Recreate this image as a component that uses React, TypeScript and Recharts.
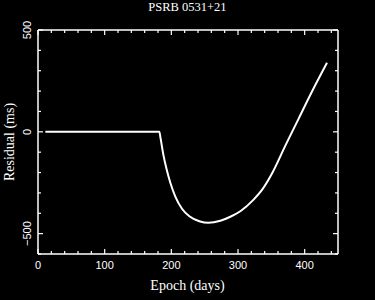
import React from 'react';
import { LineChart, Line, XAxis, YAxis } from 'recharts';

const epochs = [11, 60, 110, 160, 182, 184, 188, 193, 198.5, 206, 216, 227, 242, 255.5, 273.5, 288.5, 303.5, 323.4, 336.5, 351, 371, 391, 411, 433.5];
const residuals = [0, 0, 0, 0, 0, -35, -112, -185, -250, -318, -378, -415, -439, -447, -437, -417, -390, -333, -283, -205, -68, 65, 198, 339];
const xTicks = [0, 20, 40, 60, 80, 100, 120, 140, 160, 180, 200, 220, 240, 260, 280, 300, 320, 340, 360, 380, 400, 420, 440];
const xLabelTicks = [0, 100, 200, 300, 400];
const yTicks = [-600, -500, -400, -300, -200, -100, 0, 100, 200, 300, 400, 500];
const yLabelTicks = [-500, 0, 500];
const title = 'PSRB 0531+21';
const xTitle = 'Epoch (days)';
const yTitle = 'Residual (ms)';

const data = epochs.map((e, i) => ({ e, r: residuals[i] }));

const FG = '#ffffff';
const NUM_FONT = 'Liberation Sans, Arial, sans-serif';
const TXT_FONT = 'Liberation Serif, Times New Roman, serif';

const fmt = (v: number) => (v < 0 ? '\u2212' + Math.abs(v) : String(v));

const BottomTick = (props: any) => {
  const { x, y, payload } = props;
  const major = xLabelTicks.includes(payload.value);
  return (
    <g>
      <line x1={x} x2={x} y1={y} y2={y - (major ? 5 : 3)} stroke={FG} strokeWidth={1.2} />
      {major && (
        <text x={x} y={y + 15} textAnchor="middle" fill={FG} fontSize={11} fontFamily={NUM_FONT}>
          {fmt(payload.value)}
        </text>
      )}
    </g>
  );
};

const TopTick = (props: any) => {
  const { x, y, payload } = props;
  const major = xLabelTicks.includes(payload.value);
  return <line x1={x} x2={x} y1={y} y2={y + (major ? 5 : 3)} stroke={FG} strokeWidth={1.2} />;
};

const LeftTick = (props: any) => {
  const { x, y, payload } = props;
  const major = yLabelTicks.includes(payload.value);
  const tx = x - 7;
  return (
    <g>
      <line x1={x} x2={x + (major ? 5 : 3)} y1={y} y2={y} stroke={FG} strokeWidth={1.2} />
      {major && (
        <text x={tx} y={y} transform={`rotate(-90 ${tx} ${y})`} textAnchor="middle" fill={FG} fontSize={11} fontFamily={NUM_FONT}>
          {fmt(payload.value)}
        </text>
      )}
    </g>
  );
};

const RightTick = (props: any) => {
  const { x, y, payload } = props;
  const major = yLabelTicks.includes(payload.value);
  return <line x1={x} x2={x - (major ? 5 : 3)} y1={y} y2={y} stroke={FG} strokeWidth={1.2} />;
};

export default function App() {
  return (
    <div style={{ position: 'absolute', left: 0, top: 0, width: 375, height: 300, background: '#000' }}>
      <LineChart width={375} height={300} data={data} margin={{ top: 29, right: 36, bottom: 16, left: 0 }}>
        <XAxis
          xAxisId="b"
          dataKey="e"
          type="number"
          domain={[0, 450]}
          ticks={xTicks}
          interval={0}
          height={30}
          tickSize={0}
          tickMargin={0}
          tickLine={false}
          axisLine={{ stroke: FG, strokeWidth: 1.5 }}
          tick={<BottomTick />}
          label={{
            content: () => (
              <text x={187.5} y={290} textAnchor="middle" fill={FG} fontSize={14} fontFamily={TXT_FONT}>
                {xTitle}
              </text>
            ),
          }}
        />
        <XAxis
          xAxisId="t"
          orientation="top"
          dataKey="e"
          type="number"
          domain={[0, 450]}
          ticks={xTicks}
          interval={0}
          height={1}
          tickSize={0}
          tickMargin={0}
          tickLine={false}
          axisLine={{ stroke: FG, strokeWidth: 1.5 }}
          tick={<TopTick />}
          label={{
            content: () => (
              <text x={187.5} y={11} textAnchor="middle" fill={FG} fontSize={12.5} fontFamily={TXT_FONT}>
                {title}
              </text>
            ),
          }}
        />
        <YAxis
          yAxisId="l"
          type="number"
          domain={[-600, 500]}
          ticks={yTicks}
          interval={0}
          width={38}
          tickSize={0}
          tickMargin={0}
          tickLine={false}
          axisLine={{ stroke: FG, strokeWidth: 1.5 }}
          tick={<LeftTick />}
          label={{
            content: () => (
              <text x={14} y={142} transform="rotate(-90 14 142)" textAnchor="middle" fill={FG} fontSize={14} fontFamily={TXT_FONT}>
                {yTitle}
              </text>
            ),
          }}
        />
        <YAxis
          yAxisId="r"
          orientation="right"
          type="number"
          domain={[-600, 500]}
          ticks={yTicks}
          interval={0}
          width={1}
          tickSize={0}
          tickMargin={0}
          tickLine={false}
          axisLine={{ stroke: FG, strokeWidth: 1.5 }}
          tick={<RightTick />}
        />
        <Line xAxisId="t" yAxisId="r" dataKey="r" stroke="none" dot={false} isAnimationActive={false} />
        <Line xAxisId="b" yAxisId="l" type="monotone" dataKey="r" stroke={FG} strokeWidth={2} dot={false} isAnimationActive={false} />
      </LineChart>
    </div>
  );
}
